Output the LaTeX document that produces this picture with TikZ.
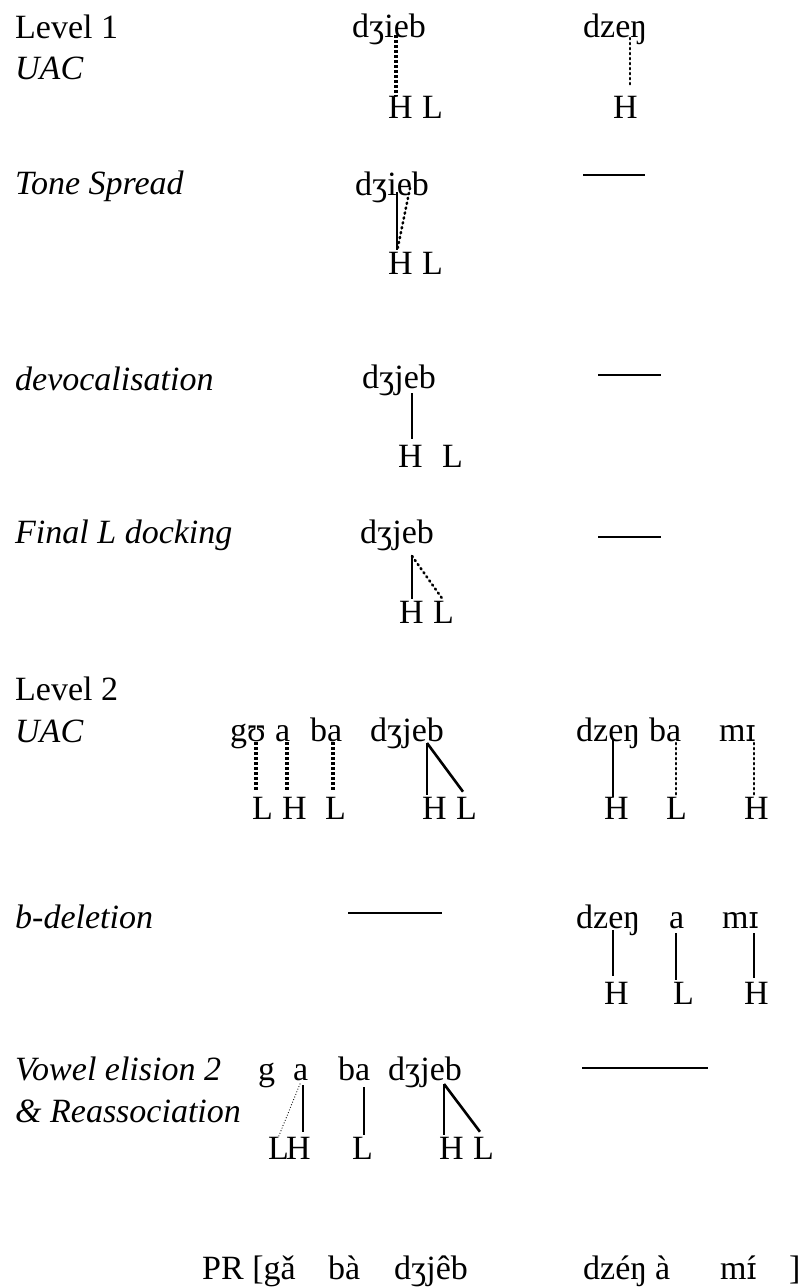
\documentclass[tikz,border=0pt]{standalone}
\usepackage{fontspec}
\setmainfont{Liberation Serif}
\newfontfamily\ipafont[Scale=0.9]{DejaVu Serif}
\usepackage{tikz}

\newcommand\txtsize{\fontsize{34}{41}\selectfont}
\newcommand\smallcapI{{\ipafont ɪ}}
\newcommand\acuteI{\setbox0\hbox{\smallcapI}\rlap{\hbox to\wd0{\hss´\hss}}\box0}

\tikzset{
  every node/.style={anchor=base west, inner sep=0pt, font=\txtsize},
  rulename/.style={font=\txtsize\itshape},
  assoc/.style={line width=1.3pt, shorten >=2pt},
  assocbold/.style={line width=2.6pt, shorten >=6pt},
  uacdash/.style={line width=3.2pt, dash pattern=on 3.2pt off 1.8pt},
  spreaddot/.style={line width=2.6pt, line cap=round, dash pattern=on 1.2pt off 3.8pt},
  elidedot/.style={line width=1.2pt, line cap=round, dash pattern=on 0pt off 2.8pt},
  noop/.style={line width=1.5pt}
}

\begin{document}
\begin{tikzpicture}[x=1pt, y=-1pt]
\useasboundingbox (0,0) rectangle (809,1287);

% Level 1
\path (15,39) node (lev1) {Level 1}
      (15,80) node[rulename] (uac1) {UAC}
      (352,38) node (dzieb1) {dʒieb}
      (583,38) node (dzen1) {dzeŋ}
      (388,118) node (h1) {H}
      (422,118) node (l1) {L}
      (613,118) node (h2) {H}
      (15,194) node[rulename] (spread) {Tone Spread}
      (355,195) node (dzieb2) {dʒieb}
      (388,274) node (h3) {H}
      (422,274) node (l3) {L}
      (15,390) node[rulename] (devoc) {devocalisation}
      (362,388) node (dzjeb3) {dʒjeb}
      (398,467) node (h4) {H}
      (442,467) node (l4) {L}
      (15,543) node[rulename] (dock) {Final L docking}
      (360,543) node (dzjeb4) {dʒjeb}
      (399,623) node (h5) {H}
      (433,623) node (l5) {L}
      ;
\coordinate (i1) at (396,35);
\coordinate (ng1) at (630,38);
\coordinate (i2) at (397,192);
\coordinate (e2) at (410,188);
\coordinate (e3) at (412,393);
\coordinate (e4) at (412,556);
\draw [uacdash] (i1) -- (i1 |- h1.north);
\draw [spreaddot, shorten >=10pt] (ng1) -- (ng1 |- h2.north);
\draw [assoc] (i2) -- (i2 |- h3.north);
\draw [spreaddot, shorten >=2pt] (e2) -- (i2 |- h3.north);
\draw [assoc, shorten >=6pt] (e3) -- (e3 |- h4.north);
\draw [assoc] (e4) -- (e4 |- h5.north);
\draw [spreaddot, shorten >=2pt] (e4) -- (node cs:name=l5, anchor=north);
\draw [noop] (583,175) -- (645,175);
\draw [noop] (598,375) -- (661,375);
\draw [noop] (598,537) -- (661,537);

% Level 2
\path (15,700) node (lev2) {Level 2}
      (15,742) node[rulename] (uac2) {UAC}
      (230,741) node (gu6) {gʊ}
      (275,741) node (a6) {a}
      (310,741) node (ba6) {ba}
      (370,741) node (dzjeb6) {dʒjeb}
      (576,741) node (dzen6) {dzeŋ}
      (649,741) node (bb6) {ba}
      (719,741) node (mi6) {m\smallcapI}
      (252,819) node (l6a) {L}
      (282,819) node (h6a) {H}
      (325,819) node (l6b) {L}
      (422,819) node (h6b) {H}
      (456,819) node (l6c) {L}
      (604,819) node (h6c) {H}
      (666,819) node (l6d) {L}
      (744,819) node (h6d) {H}
      (15,928) node[rulename] (bdel) {b-deletion}
      (576,928) node (dzen7) {dzeŋ}
      (669,928) node (a7) {a}
      (722,928) node (mi7) {m\smallcapI}
      (604,1004) node (h7a) {H}
      (673,1004) node (l7) {L}
      (744,1004) node (h7b) {H}
      (15,1080) node[rulename] (elis) {Vowel elision 2}
      (15,1122) node[rulename] (reas) {\& Reassociation}
      (258,1080) node (g8) {g}
      (293,1080) node (a8) {a}
      (338,1080) node (ba8) {ba}
      (388,1080) node (dzjeb8) {dʒjeb}
      (268,1159) node (l8a) {L}
      (286,1159) node (h8a) {H}
      (352,1159) node (l8b) {L}
      (439,1159) node (h8b) {H}
      (473,1159) node (l8c) {L}
      (202,1279) node (pr) {PR [gǎ}
      (328,1279) node (pba) {bà}
      (394,1279) node (pdzjeb) {dʒjêb}
      (583,1279) node (pdzen) {dzéŋ}
      (655,1279) node (pa) {à}
      (720,1279) node (pmi) {m\acuteI}
      (789,1279) node (pend) {]}
      ;
\coordinate (u6) at (256,742);
\coordinate (a6v) at (287,742);
\coordinate (b6v) at (333,742);
\coordinate (e6) at (427,743);
\coordinate (n6) at (613,740);
\coordinate (c6v) at (676,743);
\coordinate (i6) at (754,743);
\draw [uacdash, shorten >=7pt] (u6) -- (u6 |- l6a.north);
\draw [uacdash, shorten >=7pt] (a6v) -- (a6v |- h6a.north);
\draw [uacdash, shorten >=7pt] (b6v) -- (b6v |- l6b.north);
\draw [assoc] (e6) -- (e6 |- h6b.north);
\draw [assocbold] (e6) -- (node cs:name=l6c, anchor=north);
\draw [assoc, shorten >=0pt] (n6) -- (n6 |- h6c.north);
\draw [spreaddot, shorten >=1pt] (c6v) -- (c6v |- l6d.north);
\draw [spreaddot, shorten >=1pt] (i6) -- (i6 |- h6d.north);

\coordinate (n7) at (613,930);
\coordinate (a7v) at (676,933);
\coordinate (i7) at (754,933);
\draw [noop] (348,913) -- (442,913);
\draw [assoc, shorten >=6pt] (n7) -- (n7 |- h7a.north);
\draw [assoc] (a7v) -- (a7v |- l7.north);
\draw [assoc, shorten >=4pt] (i7) -- (i7 |- h7b.north);

\coordinate (a8v) at (300,1084);
\coordinate (a8s) at (303,1085);
\coordinate (b8v) at (364,1087);
\coordinate (e8) at (444,1084);
\draw [noop] (582,1068) -- (708,1068);
\draw [elidedot] (a8v) -- (node cs:name=l8a, anchor=north);
\draw [assoc, shorten >=5pt] (a8s) -- (a8s |- h8a.north);
\draw [assoc] (b8v) -- (b8v |- l8b.north);
\draw [assoc] (e8) -- (e8 |- h8b.north);
\draw [assocbold] (e8) -- (node cs:name=l8c, anchor=north);
\end{tikzpicture}
\end{document}
